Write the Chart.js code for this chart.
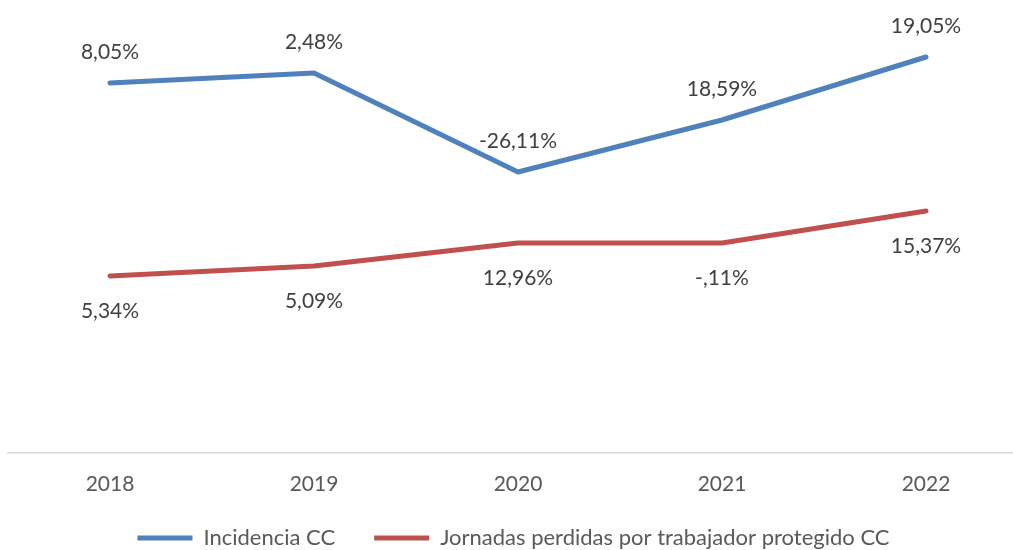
<!DOCTYPE html>
<html><head><meta charset="utf-8">
<script src="https://cdn.jsdelivr.net/npm/chart.js@4.4.1/dist/chart.umd.min.js"></script>
<style>html,body{margin:0;padding:0;overflow:hidden;background:#fff;width:1013px;height:550px}canvas{display:block}</style>
</head><body>
<canvas id="c" width="1028" height="550" style="width:1028px;height:550px"></canvas>
<script>
const categories = ['2018', '2019', '2020', '2021', '2022'];
const incidenciaValues = [370, 380, 281, 333, 396];
const jornadasValues = [177, 187, 210, 210, 242];
const incidenciaLabels = ['8,05%', '2,48%', '-26,11%', '18,59%', '19,05%'];
const jornadasLabels = ['5,34%', '5,09%', '12,96%', '-,11%', '15,37%'];
const seriesNames = ['Incidencia CC', 'Jornadas perdidas por trabajador protegido CC'];

const FONT = 'Lato';
const X_AXIS_HEIGHT = 45;
const LEGEND_HEIGHT = 52;
const LEGEND_PAD = 39;
const LEGEND_FONT = 22;
const LEGEND_TOP_OFFSET = 85 - LEGEND_PAD - LEGEND_FONT / 2; // text centre ~85px under the axis
const LEGEND_SHIFT_X = -4.5;

const dataLabelPlugin = {
  id: 'dataLabels',
  afterDatasetsDraw(chart) {
    const ctx = chart.ctx;
    chart.data.datasets.forEach((ds, i) => {
      const meta = chart.getDatasetMeta(i);
      ctx.save();
      ctx.font = '21px ' + FONT;
      ctx.fillStyle = '#404040';
      ctx.textAlign = 'center';
      ctx.textBaseline = 'middle';
      meta.data.forEach((pt, j) => {
        ctx.fillText(ds.valueLabels[j], pt.x, pt.y + ds.labelOffset);
      });
      ctx.restore();
    });
  }
};

const legendFitPlugin = {
  id: 'legendFit',
  beforeUpdate(chart) {
    const lg = chart.legend;
    if (lg && !lg.__patched) {
      const orig = lg.fit;
      lg.fit = function () { orig.call(this); this.height = LEGEND_HEIGHT; };
      lg.__patched = true;
    }
  },
  afterLayout(chart) {
    const lg = chart.legend;
    if (!lg) return;
    lg.top = chart.chartArea.bottom + LEGEND_TOP_OFFSET;
    lg.bottom = chart.height;
    lg.height = lg.bottom - lg.top;
    lg.left += LEGEND_SHIFT_X;
    lg.right += LEGEND_SHIFT_X;
  }
};

new Chart(document.getElementById('c'), {
  type: 'line',
  data: {
    labels: categories,
    datasets: [
      {
        label: seriesNames[0], data: incidenciaValues, valueLabels: incidenciaLabels, labelOffset: -31,
        borderColor: '#4F81BD', backgroundColor: '#4F81BD', borderWidth: 5,
        pointRadius: 0, tension: 0, borderCapStyle: 'round', borderJoinStyle: 'round'
      },
      {
        label: seriesNames[1], data: jornadasValues, valueLabels: jornadasLabels, labelOffset: 35,
        borderColor: '#C0504D', backgroundColor: '#C0504D', borderWidth: 5,
        pointRadius: 0, tension: 0, borderCapStyle: 'round', borderJoinStyle: 'round'
      }
    ]
  },
  options: {
    responsive: false,
    animation: false,
    devicePixelRatio: 1,
    layout: { padding: { left: 8, right: 0, top: 0, bottom: 0 } },
    scales: {
      x: {
        offset: true,
        grid: { display: false },
        border: { display: true, color: '#d9d9d9', width: 1.5 },
        ticks: { color: '#595959', font: { family: FONT, size: 21 }, padding: 11 },
        afterFit(scale) { scale.height = X_AXIS_HEIGHT; }
      },
      y: { display: false, min: 0, max: 453 }
    },
    plugins: {
      legend: {
        position: 'bottom',
        labels: {
          usePointStyle: true, pointStyle: 'line', pointStyleWidth: 55,
          color: '#595959', font: { family: FONT, size: LEGEND_FONT }, padding: LEGEND_PAD
        }
      },
      tooltip: { enabled: false }
    }
  },
  plugins: [legendFitPlugin, dataLabelPlugin]
});
</script>
</body></html>
